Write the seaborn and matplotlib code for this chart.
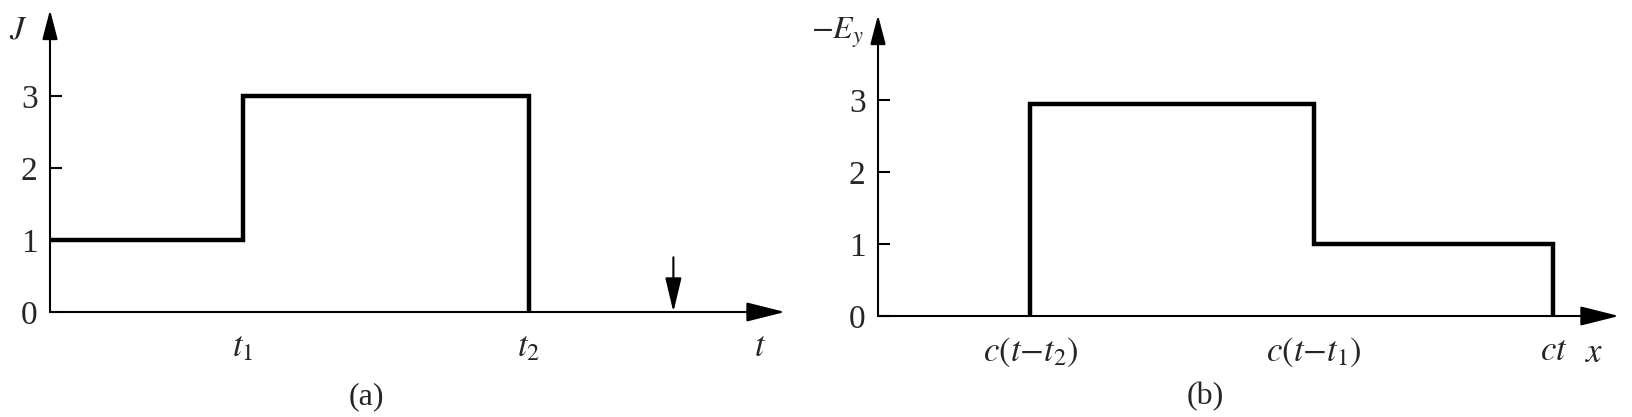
import matplotlib
matplotlib.use("Agg")
import matplotlib.pyplot as plt
import seaborn as sns

# panel (a): current J(t)
t_a = [0.0, 1.0, 1.0, 2.48, 2.48]
J_a = [1, 1, 3, 3, 0]
xticks_a = [1.0, 2.48]
xlabels_a = [r"$t_1$", r"$t_2$"]
t_mark = 3.23
mark_top = 0.76

# panel (b): field -E_y(x)
x_b = [0.79, 0.79, 2.26, 2.26, 3.5, 3.5]
E_b = [0, 2.95, 2.95, 1.0, 1.0, 0]
xticks_b = [0.79, 2.26, 3.5]
xlabels_b = [r"$c(t{-}t_2)$", r"$c(t{-}t_1)$", r"$ct$"]

yticks = [0, 1, 2, 3]

sns.set_style("white")
plt.rcParams["font.family"] = ["Liberation Serif", "DejaVu Serif"]
plt.rcParams["mathtext.fontset"] = "stix"

W, H = 1633, 417
fig = plt.figure(figsize=(W / 100, H / 100), dpi=100)

ax_a = fig.add_axes([50 / W, 105 / H, 735 / W, 302 / H])
ax_b = fig.add_axes([878 / W, 101 / H, 741 / W, 301 / H])

LW_STEP = 3.2
LW_AX = 1.5


def draw_axes(ax, xmax, ymax):
    ax.set_xlim(0, xmax)
    ax.set_ylim(0, ymax)
    for s in ax.spines.values():
        s.set_visible(False)
    ax.annotate("", xy=(xmax, 0), xytext=(0, 0), annotation_clip=False,
                arrowprops=dict(arrowstyle="-|>,head_length=2.4,head_width=0.6",
                                color="k", lw=LW_AX, mutation_scale=10,
                                shrinkA=0, shrinkB=0))
    ax.annotate("", xy=(0, ymax), xytext=(0, 0), annotation_clip=False,
                arrowprops=dict(arrowstyle="-|>,head_length=1.8,head_width=0.47",
                                color="k", lw=LW_AX, mutation_scale=10,
                                shrinkA=0, shrinkB=0))
    ax.set_yticks(yticks)
    ax.tick_params(axis="y", direction="in", length=8.6, width=LW_AX,
                   pad=9, labelsize=24, color="k", left=True)
    ax.tick_params(axis="x", length=0, pad=14, labelsize=25)
    ax.set_xlabel("")
    ax.set_ylabel("")


# (a)
sns.lineplot(x=t_a, y=J_a, sort=False, estimator=None, color="k",
             lw=LW_STEP, ax=ax_a, solid_joinstyle="miter", solid_capstyle="butt")
ax_a.lines[-1].set_clip_on(False)
draw_axes(ax_a, 735 / 193, 302 / 72)
ax_a.set_xticks(xticks_a, xlabels_a)
ax_a.annotate("", xy=(t_mark, 0), xytext=(t_mark, mark_top), annotation_clip=False,
              arrowprops=dict(arrowstyle="-|>,head_length=2.1,head_width=0.5",
                              color="k", lw=LW_AX, mutation_scale=10,
                              shrinkA=0, shrinkB=0))
ax_a.text(3.68, -0.5, r"$t$", ha="center", va="center", fontsize=25)

# (b)
sns.lineplot(x=x_b, y=E_b, sort=False, estimator=None, color="k",
             lw=LW_STEP, ax=ax_b, solid_joinstyle="miter", solid_capstyle="butt")
ax_b.lines[-1].set_clip_on(False)
draw_axes(ax_b, 741 / 193, 301 / 72)
ax_b.set_xticks(xticks_b, xlabels_b)
ax_b.text(3.71, -0.52, r"$x$", ha="center", va="center", fontsize=25)

# axis titles and panel captions
fig.text(18 / W, 1 - 30 / H, r"$J$", ha="center", va="center", fontsize=24)
fig.text(838 / W, 1 - 33 / H, r"$-E_y$", ha="center", va="center", fontsize=23)
fig.text(366 / W, 1 - 397 / H, "(a)", ha="center", va="center", fontsize=23)
fig.text(1205 / W, 1 - 397 / H, "(b)", ha="center", va="center", fontsize=23)

fig.savefig("out.png", dpi=100)
